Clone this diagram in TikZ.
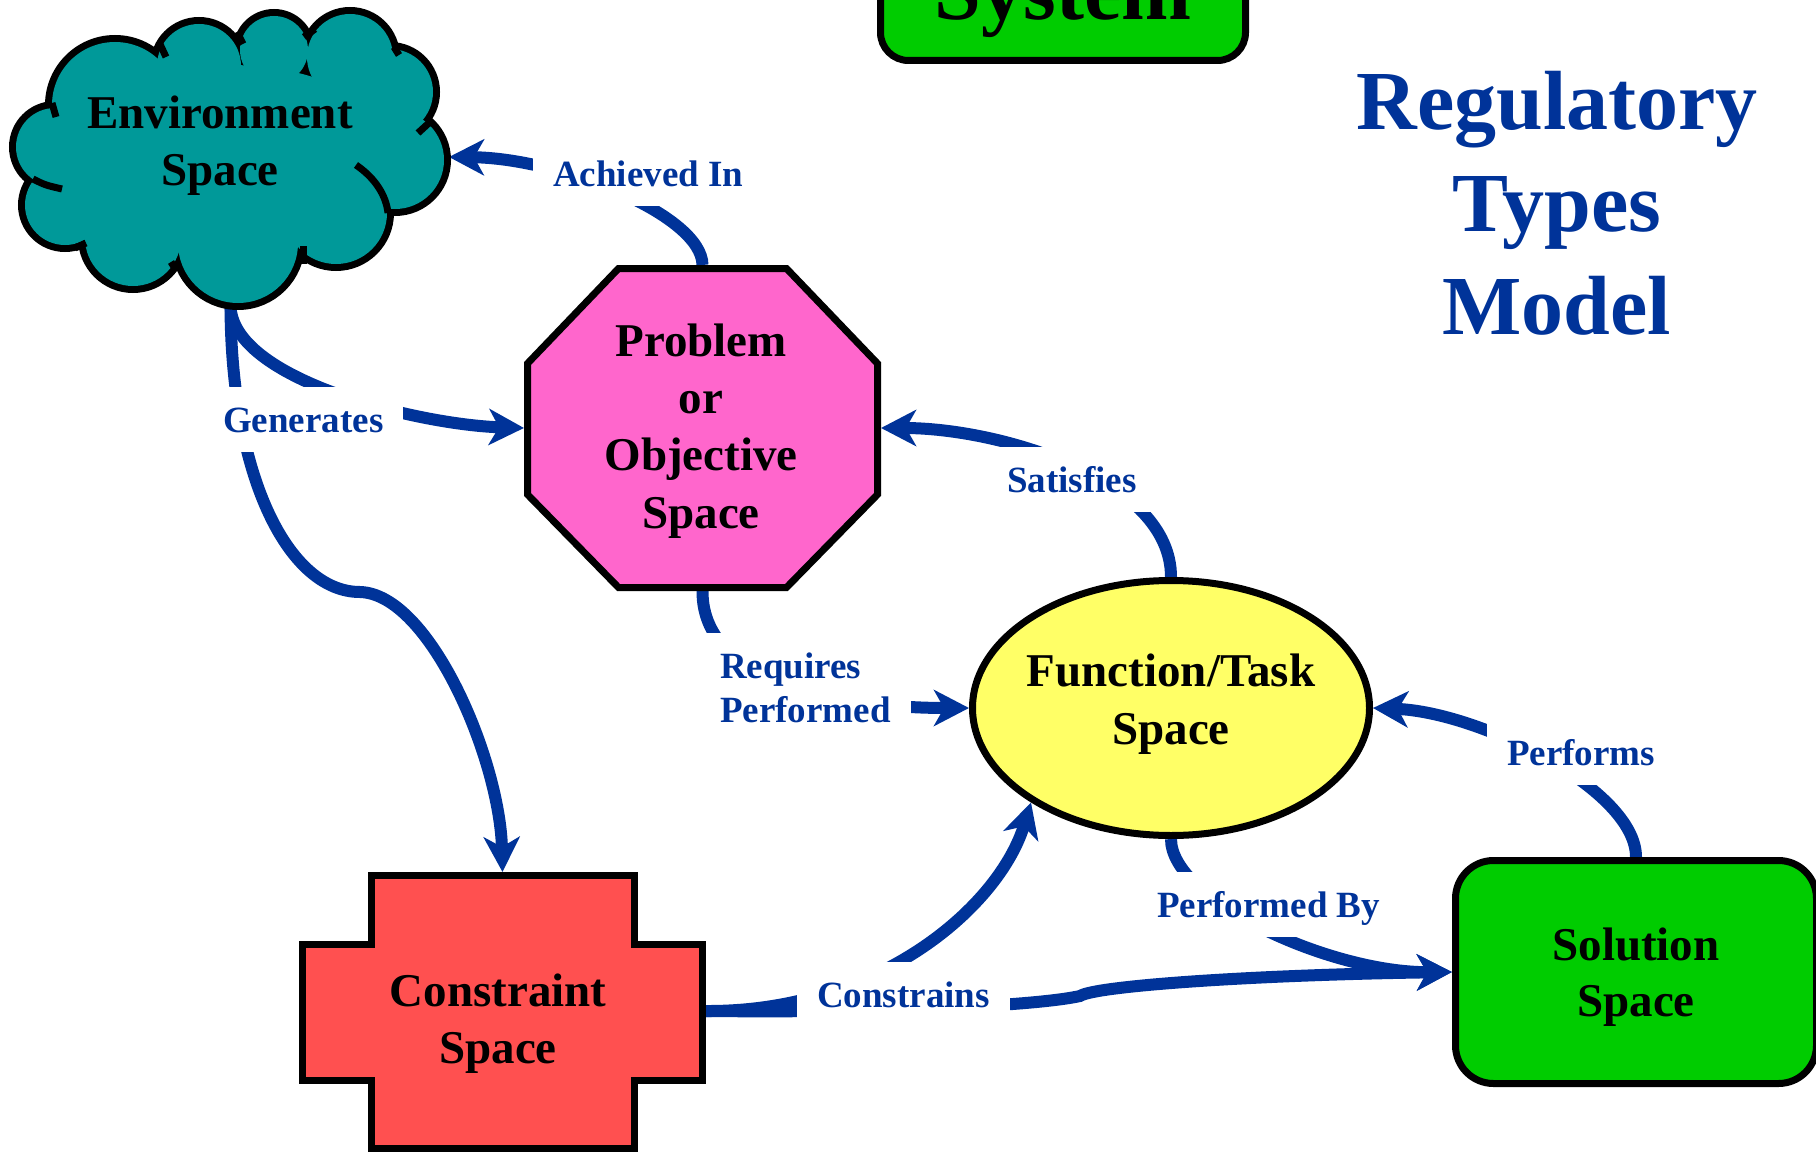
\documentclass[tikz,border=0pt]{standalone}
\usepackage{fontspec}
\setmainfont{Liberation Serif}
\usetikzlibrary{arrows.meta,shapes.geometric}
\definecolor{linkblue}{HTML}{003399}
\definecolor{cloudteal}{HTML}{009999}
\definecolor{probpink}{HTML}{FF66CC}
\definecolor{funcyellow}{HTML}{FFFF66}
\definecolor{consred}{HTML}{FF5050}
\definecolor{boxgreen}{HTML}{00CC00}
\pgfdeclarelayer{background}
\pgfsetlayers{background,main}
\begin{document}
\begin{tikzpicture}[x=1pt,y=-1pt,
  conn/.style={draw=linkblue, line width=12pt, -{Stealth[length=35pt,width=36pt,inset=10pt]}},
  border/.style={draw=black, line width=7pt},
  anchorbox/.style={rectangle, inner sep=0pt, outer sep=0pt},
  nodetext/.style={font=\fontsize{47}{57}\selectfont\bfseries, align=center, inner sep=0pt},
  labbase/.style={font=\fontsize{37}{44}\selectfont\bfseries, text=linkblue, fill=white, inner xsep=20pt, inner ysep=20pt},
  lab/.style={labbase, text height=25pt, text depth=0pt}]
\useasboundingbox (0,0) rectangle (1816,1153);

% ---------- Environment cloud ----------
\node[anchorbox, minimum width=437pt, minimum height=296pt] (env) at (230.5,157) {};
\foreach \cx/\cy/\r in {55/147/39, 65/205/40, 133/238/48, 238/243/60, 336/213/51, 395/160/49, 390/92/43, 350/57/43, 274/50/34, 199/66/42, 115/105/63}
  \draw[black, line width=14pt] (\cx,\cy) circle[radius=\r];
\foreach \cx/\cy/\r in {55/147/39, 65/205/40, 133/238/48, 238/243/60, 336/213/51, 395/160/49, 390/92/43, 350/57/43, 274/50/34, 199/66/42, 115/105/63}
  \fill[cloudteal] (\cx,\cy) circle[radius=\r];
\fill[cloudteal] (230,160) ellipse[x radius=170, y radius=95];
\begin{scope}[line width=7pt, black]
  \draw (159,42) -- (166,57);
  \draw (237,32) -- (243,44);
  \draw (304,37) -- (315,29);
  \draw (394,47) -- (399,55);
  \draw (418,133) -- (430,122);
  \draw (356,165) .. controls (375,178) and (386,195) .. (388,213);
  \draw (303,246) -- (303,264);
  \draw (171,262) -- (176,270);
  \draw (75,248) -- (86,243);
  \draw (33,179) .. controls (45,185) .. (62,189);
  \draw (52,103) -- (56,117);
\end{scope}
\node[nodetext] (envtext) at (220,145.4) {Environment\\Space};

% ---------- Problem octagon ----------
\node[anchorbox, minimum width=357pt, minimum height=326pt] (prob) at (702.5,428) {};
\draw[border, fill=probpink, line join=miter] (618.5,268.5) -- (786.5,268.5) -- (877.5,363.5) -- (877.5,494.5) -- (786.5,587.5) -- (618.5,587.5) -- (527.5,494.5) -- (527.5,363.5) -- cycle;
\node[nodetext, font=\fontsize{47}{57.3}\selectfont\bfseries] (probtext) at (701,430.9) {Problem\\or\\Objective\\Space};

% ---------- Function ellipse ----------
\node[ellipse, border, fill=funcyellow, minimum width=397pt, minimum height=255pt, inner sep=0pt] (func) at (1171,708) {};
\node[nodetext, font=\fontsize{47}{58}\selectfont\bfseries] (functext) at (1171,704.4) {Function/Task\\Space};

% ---------- Constraint cross ----------
\node[anchorbox, minimum width=407pt, minimum height=278pt] (cons) at (502.5,1011) {};
\draw[border, fill=consred, line join=miter] (371.5,875.5) -- (634.5,875.5) -- (634.5,944.5) -- (702.5,944.5) -- (702.5,1080.5) -- (634.5,1080.5) -- (634.5,1148.5) -- (371.5,1148.5) -- (371.5,1080.5) -- (302.5,1080.5) -- (302.5,944.5) -- (371.5,944.5) -- cycle;
\node[nodetext] (constext) at (498,1023.4) {Constraint\\Space};

% ---------- Solution box ----------
\node[rectangle, rounded corners=38pt, border, fill=boxgreen, minimum width=361pt, minimum height=223pt, inner sep=0pt] (sol) at (1636,972) {};
\node[nodetext, font=\fontsize{47}{56}\selectfont\bfseries] (soltext) at (1636,976.9) {Solution\\Space};

% ---------- System box (cut at top) ----------
\node[rectangle, rounded corners=28pt, border, fill=boxgreen, minimum width=365pt, minimum height=223pt, inner sep=0pt] (sys) at (1063,-51) {};
\node[font=\fontsize{84}{100}\selectfont\bfseries, inner sep=0pt, anchor=base] (systext) at (1063,20) {System};

% ---------- Title ----------
\node[font=\fontsize{84}{102.5}\selectfont\bfseries, text=linkblue, align=center, inner sep=0pt] (title) at (1557,203) {Regulatory\\Types\\Model};

% ---------- Connectors ----------
\begin{pgfonlayer}{background}
  \draw[conn] (prob.north) .. controls (702,215) and (560,158) .. (env.east);
  \draw[conn] (env.south) .. controls (231,380) and (420,425) .. (prob.west);
  \draw[conn] (env.south) .. controls (231,480) and (290,592) .. (360,592) .. controls (430,594) and (500,760) .. (cons.north);
  \draw[conn] (func.north) .. controls (1171,479) and (1000,428) .. (prob.east);
  \draw[conn] (prob.south) .. controls (702,690) and (860,708) .. (func.west);
  \draw[conn] (sol.north) .. controls (1636,790) and (1480,712) .. (func.east);
  \draw[conn] (func.south) .. controls (1171,900) and (1330,973) .. (sol.west);
  \draw[conn] (cons.east) .. controls (880,1012) and (1000,905) .. (func.214);
  \draw[conn] (cons.east) .. controls (900,1013) and (1040,1005) .. (1080,996) .. controls (1095,986) and (1250,975) .. (sol.west);
\end{pgfonlayer}

% ---------- Connector labels ----------
\node[lab, anchor=base west] (lachieved) at (533,186) {Achieved In};
\node[lab, anchor=base west] (lgenerates) at (203,432) {Generates};
\node[lab, anchor=base west] (lsatisfies) at (987,492) {Satisfies};
\node[lab, anchor=base west] (lperforms) at (1487,765) {Performs};
\node[lab, anchor=base west] (lconstrains) at (797,1007) {Constrains};
\node[lab, anchor=base west] (lperformedby) at (1137,917) {Performed By};
\node[labbase, align=left, anchor=north west] (lrequires) at (700,632.5) {Requires\\Performed};
\end{tikzpicture}
\end{document}
